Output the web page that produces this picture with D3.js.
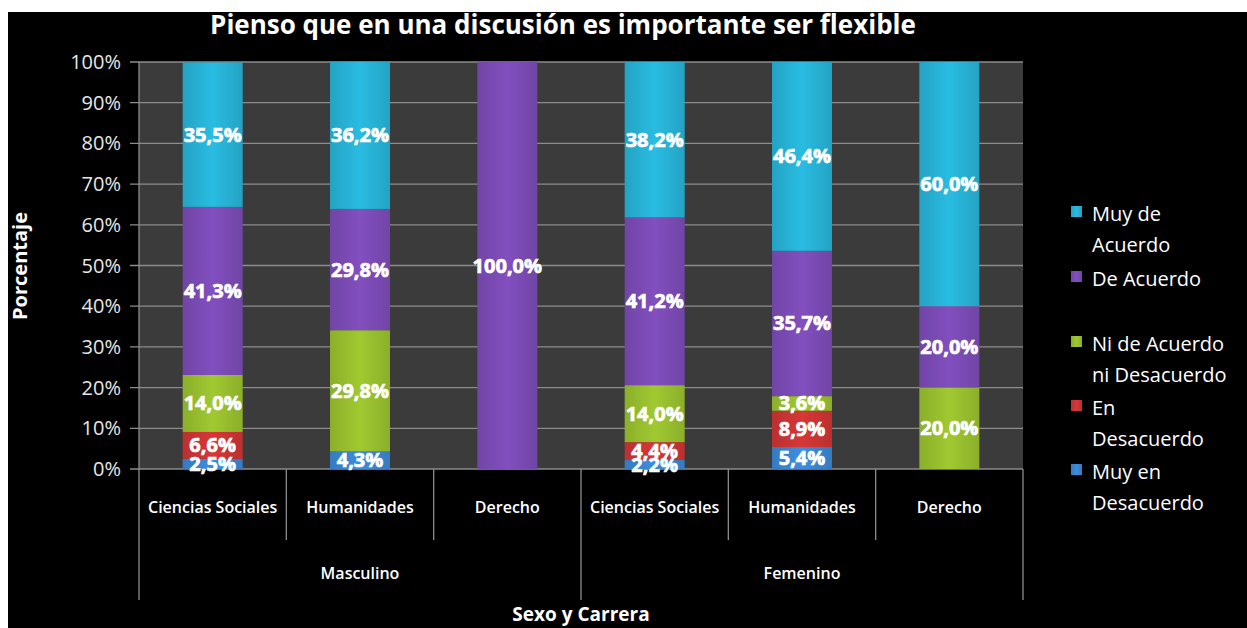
<!DOCTYPE html>
<html><head><meta charset="utf-8">
<script src="https://cdn.jsdelivr.net/npm/d3@7"></script>
<style>
html,body{margin:0;padding:0;background:#fff;}
svg{display:block;}
text{font-family:"Open Sans","DejaVu Sans",sans-serif;}
</style></head>
<body><svg id="c" width="1247" height="628"></svg>
<script>
const title = "Pienso que en una discusión es importante ser flexible";
const categories = ["Ciencias Sociales","Humanidades","Derecho","Ciencias Sociales","Humanidades","Derecho"];
const groups = ["Masculino","Femenino"];
const seriesNames = ["Muy en Desacuerdo","En Desacuerdo","Ni de Acuerdo ni Desacuerdo","De Acuerdo","Muy de Acuerdo"];
const muyEnDesacuerdo = [2.5, 4.3, 0, 2.2, 5.4, 0];
const enDesacuerdo    = [6.6, 0, 0, 4.4, 8.9, 0];
const niNi            = [14.0, 29.8, 0, 14.0, 3.6, 20.0];
const deAcuerdo       = [41.3, 29.8, 100.0, 41.2, 35.7, 20.0];
const muyDeAcuerdo    = [35.5, 36.2, 0, 38.2, 46.4, 60.0];
const yTicks = [0,10,20,30,40,50,60,70,80,90,100];
const legendLines = [["Muy de","Acuerdo"],["De Acuerdo"],["Ni de Acuerdo","ni Desacuerdo"],["En","Desacuerdo"],["Muy en","Desacuerdo"]];

const colors = ["#3a86d2","#cc3434","#98bf2e","#7b4bb5","#27b2d6"];
const values = [muyEnDesacuerdo, enDesacuerdo, niNi, deAcuerdo, muyDeAcuerdo];

const svg = d3.select("#c");
svg.append("rect").attr("x",8).attr("y",12).attr("width",1239).attr("height",616).attr("fill","#000");

const L=139, R=1023, T=62, B=469;
const x = d3.scaleBand().domain(d3.range(categories.length)).range([L,R]).paddingInner(0).paddingOuter(0);
const y = d3.scaleLinear().domain([0,100]).range([B,T]);

svg.append("rect").attr("x",L).attr("y",T).attr("width",R-L).attr("height",B-T).attr("fill","#3b3b3b");
svg.append("g").selectAll("line").data(yTicks).join("line")
  .attr("x1",L-9).attr("x2",R).attr("y1",d=>y(d)).attr("y2",d=>y(d))
  .attr("stroke","#8c8c8c").attr("stroke-width",1.3);
svg.append("line").attr("x1",L).attr("x2",L).attr("y1",T).attr("y2",B).attr("stroke","#8c8c8c").attr("stroke-width",1.3);

svg.append("g").selectAll("text").data(yTicks).join("text")
  .attr("x",121).attr("y",d=>y(d)+7).attr("text-anchor","end")
  .attr("fill","#e6e6e6").attr("font-size",20).text(d=>d+"%");

const rows = categories.map((c,i)=>{const o={i}; seriesNames.forEach((s,k)=>o[s]=values[k][i]); return o;});
const stack = d3.stack().keys(seriesNames)(rows);

const defs = svg.append("defs");
colors.forEach((c,k)=>{
  const g = defs.append("linearGradient").attr("id","g"+k).attr("x1",0).attr("x2",1).attr("y1",0).attr("y2",0);
  g.append("stop").attr("offset","0%").attr("stop-color",d3.color(c).darker(0.25));
  g.append("stop").attr("offset","50%").attr("stop-color",d3.color(c).brighter(0.15));
  g.append("stop").attr("offset","100%").attr("stop-color",d3.color(c).darker(0.25));
});

const bw = 60;
const layers = svg.append("g").selectAll("g").data(stack).join("g").attr("fill",(d,k)=>"url(#g"+k+")");
layers.selectAll("rect").data(d=>d).join("rect")
  .attr("x",d=>x(d.data.i)+x.bandwidth()/2-bw/2).attr("width",bw)
  .attr("y",d=>y(d[1])).attr("height",d=>Math.max(0,y(d[0])-y(d[1])));

const fmt = v => v.toFixed(1).replace(".",",")+"%";
const lab = svg.append("g");
stack.forEach((layer,k)=>{
  layer.forEach(d=>{
    const v = d[1]-d[0];
    if (v<=0) return;
    lab.append("text").attr("x",x(d.data.i)+x.bandwidth()/2).attr("y",(y(d[0])+y(d[1]))/2+7)
      .attr("text-anchor","middle").attr("fill","#fff").attr("font-size",20).attr("font-weight","bold")
      .attr("stroke","#fff").attr("stroke-width",0.7)
      .text(fmt(v));
  });
});

const divs = d3.range(categories.length+1);
svg.append("g").selectAll("line").data(divs).join("line")
  .attr("x1",i=>L+i*x.bandwidth()).attr("x2",i=>L+i*x.bandwidth())
  .attr("y1",B).attr("y2",i=>(i%3===0)?600:540)
  .attr("stroke","#8c8c8c").attr("stroke-width",1.3);
svg.append("g").selectAll("text").data(categories).join("text")
  .attr("x",(d,i)=>x(i)+x.bandwidth()/2).attr("y",513).attr("text-anchor","middle")
  .attr("fill","#fff").attr("font-size",16).attr("font-weight","600")
  .text(d=>d);
svg.append("g").selectAll("text").data(groups).join("text")
  .attr("x",(d,g)=>x(g*3+1)+x.bandwidth()/2).attr("y",579).attr("text-anchor","middle")
  .attr("fill","#fff").attr("font-size",16).attr("font-weight","600")
  .text(d=>d);

svg.append("text").attr("x",(L+R)/2).attr("y",621).attr("text-anchor","middle").attr("fill","#fff")
  .attr("font-size",19).attr("font-weight","bold").text("Sexo y Carrera");
svg.append("text").attr("transform","translate(27,266) rotate(-90)").attr("text-anchor","middle").attr("fill","#fff")
  .attr("font-size",20).attr("font-weight","bold").text("Porcentaje");

svg.append("text").attr("x",563).attr("y",34).attr("text-anchor","middle").attr("fill","#fff")
  .attr("font-size",26).attr("font-weight","bold").text(title);

const legY = [214, 279, 344, 408, 472];
const leg = svg.append("g");
legendLines.forEach((lines,j)=>{
  const k = 4-j;
  leg.append("rect").attr("x",1071).attr("y",legY[j]-8).attr("width",11).attr("height",11).attr("fill","url(#g"+k+")");
  lines.forEach((t,m)=>{
    leg.append("text").attr("x",1092).attr("y",legY[j]+7+m*31).attr("fill","#fff").attr("font-size",20).text(t);
  });
});
</script></body></html>
